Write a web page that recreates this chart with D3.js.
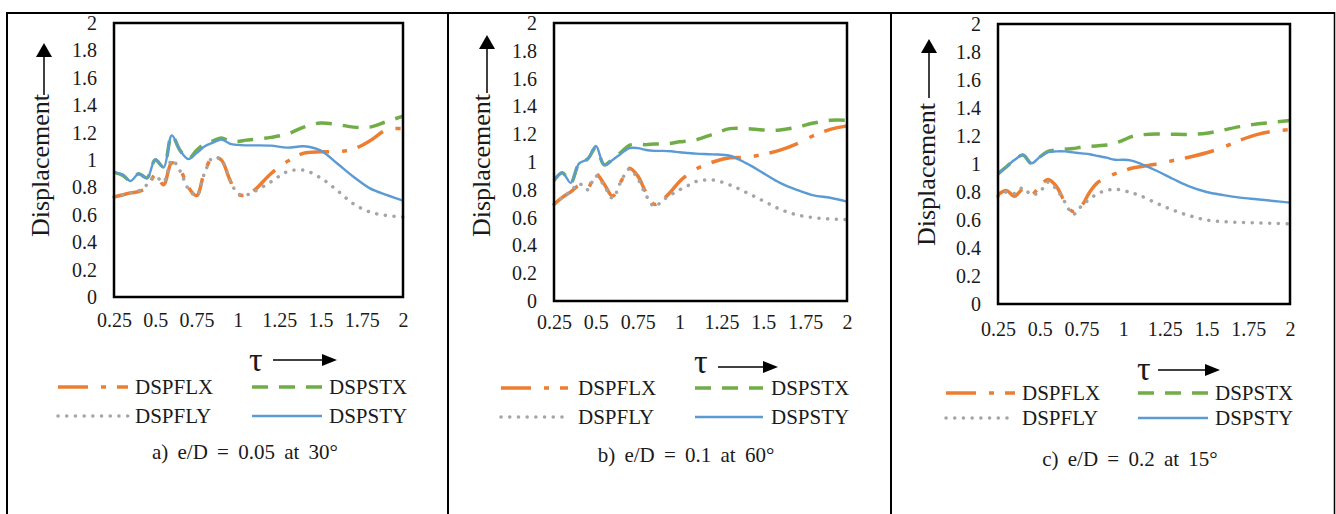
<!DOCTYPE html>
<html>
<head>
<meta charset="utf-8">
<script src="https://cdn.jsdelivr.net/npm/d3@7"></script>
<style>
  body { margin: 0; background: #fff; }
  svg text { font-family: 'Liberation Serif', 'DejaVu Serif', serif; fill: #1a1a1a; }
</style>
</head>
<body>
<div id="chart"></div>
<script>
// tau values shared by all series
var tau = [0.25, 0.3, 0.35, 0.4, 0.45, 0.5, 0.55, 0.6, 0.65, 0.7, 0.75, 0.8, 0.85, 0.9, 0.95,
           1, 1.05, 1.1, 1.2, 1.3, 1.4, 1.5, 1.6, 1.7, 1.8, 1.9, 2];

// a) e/D = 0.05 at 30
var flxA = [0.73, 0.745, 0.76, 0.77, 0.80, 0.89, 0.82, 0.98, 0.93, 0.80, 0.74, 0.92, 1.02, 1.0, 0.86,
            0.75, 0.745, 0.78, 0.90, 0.99, 1.05, 1.06, 1.06, 1.08, 1.14, 1.22, 1.23];
var stxA = [0.91, 0.89, 0.85, 0.90, 0.87, 1.0, 0.95, 1.18, 1.07, 1.01, 1.07, 1.12, 1.14, 1.16, 1.14,
            1.135, 1.145, 1.15, 1.165, 1.19, 1.24, 1.27, 1.26, 1.24, 1.24, 1.28, 1.32];
var flyA = [0.73, 0.745, 0.76, 0.775, 0.82, 0.88, 0.84, 1.0, 0.92, 0.79, 0.74, 0.91, 1.02, 1.0, 0.86,
            0.755, 0.745, 0.77, 0.84, 0.915, 0.925, 0.87, 0.78, 0.68, 0.62, 0.595, 0.585];
var styA = [0.91, 0.895, 0.847, 0.90, 0.866, 1.005, 0.946, 1.18, 1.07, 1.007, 1.05, 1.10, 1.127, 1.15, 1.12,
            1.11, 1.107, 1.107, 1.105, 1.09, 1.10, 1.07, 0.976, 0.878, 0.793, 0.745, 0.703];

// b) e/D = 0.1 at 60
var flxB = [0.695, 0.745, 0.785, 0.83, 0.81, 0.915, 0.84, 0.755, 0.86, 0.955, 0.90, 0.78, 0.695, 0.73, 0.79,
            0.86, 0.91, 0.95, 1.0, 1.03, 1.035, 1.055, 1.085, 1.13, 1.19, 1.235, 1.26];
var stxB = [0.866, 0.923, 0.85, 0.99, 1.02, 1.1, 0.98, 1.02, 1.07, 1.12, 1.127, 1.125, 1.13, 1.13, 1.135,
            1.145, 1.15, 1.16, 1.2, 1.24, 1.24, 1.23, 1.23, 1.25, 1.28, 1.30, 1.30];
var flyB = [0.695, 0.745, 0.79, 0.845, 0.80, 0.90, 0.83, 0.74, 0.86, 0.95, 0.88, 0.76, 0.68, 0.725, 0.765,
            0.80, 0.83, 0.86, 0.87, 0.835, 0.78, 0.72, 0.66, 0.62, 0.60, 0.59, 0.585];
var styB = [0.866, 0.923, 0.85, 0.99, 1.02, 1.115, 0.978, 1.015, 1.06, 1.10, 1.10, 1.086, 1.08, 1.08, 1.077,
            1.07, 1.065, 1.06, 1.055, 1.045, 0.99, 0.92, 0.85, 0.80, 0.76, 0.743, 0.715];

// c) e/D = 0.2 at 15
var flxC = [0.78, 0.81, 0.77, 0.82, 0.78, 0.84, 0.89, 0.84, 0.73, 0.66, 0.70, 0.80, 0.87, 0.90, 0.93,
            0.95, 0.97, 0.98, 1.0, 1.025, 1.05, 1.08, 1.12, 1.17, 1.21, 1.235, 1.245];
var stxC = [0.93, 0.98, 1.03, 1.064, 1.005, 1.05, 1.09, 1.10, 1.105, 1.11, 1.12, 1.125, 1.13, 1.135, 1.148,
            1.17, 1.195, 1.207, 1.214, 1.212, 1.212, 1.22, 1.243, 1.267, 1.286, 1.298, 1.31];
var flyC = [0.77, 0.80, 0.79, 0.83, 0.78, 0.80, 0.87, 0.82, 0.73, 0.64, 0.70, 0.75, 0.79, 0.81, 0.82,
            0.81, 0.795, 0.775, 0.72, 0.67, 0.63, 0.60, 0.588, 0.583, 0.58, 0.576, 0.572];
var styC = [0.93, 0.98, 1.03, 1.064, 1.005, 1.05, 1.085, 1.09, 1.09, 1.083, 1.076, 1.07, 1.057, 1.045, 1.03,
            1.03, 1.024, 1.005, 0.952, 0.893, 0.838, 0.80, 0.778, 0.76, 0.748, 0.736, 0.724];

var seriesNames = ["DSPFLX", "DSPSTX", "DSPFLY", "DSPSTY"];
var captions = ["a) e/D = 0.05 at 30\u00b0", "b) e/D = 0.1 at 60\u00b0", "c) e/D = 0.2 at 15\u00b0"];
var xTicks = [0.25, 0.5, 0.75, 1, 1.25, 1.5, 1.75, 2];
var yTicks = [0, 0.2, 0.4, 0.6, 0.8, 1, 1.2, 1.4, 1.6, 1.8, 2];

var serif = "'Liberation Serif', 'DejaVu Serif', serif";

var styles = [
  {color: "#ED7D31", width: 3.5, dash: "30,13,5,11", cap: "butt"},
  {color: "#70AD47", width: 3.5, dash: "16,11", cap: "butt"},
  {color: "#A5A5A5", width: 3.5, dash: "0.1,8.6", cap: "round"},
  {color: "#5B9BD5", width: 2.4, dash: null, cap: "butt"}
];

// layout of each panel
var panels = [
  {vals: [flxA, stxA, flyA, styA], l: 114, r: 403, t: 23, b: 297, xPad: 16,
   yl: {tx: 49, ty: 237, lx: 44, top: 95, tip: 43},
   tau: {x: 249, y: 371, ay: 360, a1: 273, a2: 337},
   leg: {c1: [58, 128, 135], c2: [252, 322, 329], r: [387, 416]},
   cap: {x: 245, y: 459}},
  {vals: [flxB, stxB, flyB, styB], l: 554, r: 847, t: 23, b: 301, xPad: 14,
   yl: {tx: 490, ty: 237, lx: 487, top: 93, tip: 35},
   tau: {x: 694, y: 373, ay: 367, a1: 718, a2: 778},
   leg: {c1: [501, 568, 578], c2: [695, 763, 771], r: [388, 417]},
   cap: {x: 686, y: 462}},
  {vals: [flxC, stxC, flyC, styC], l: 998, r: 1290, t: 24, b: 304, xPad: 18,
   yl: {tx: 935, ty: 246, lx: 929, top: 98, tip: 39},
   tau: {x: 1137, y: 380, ay: 370, a1: 1158, a2: 1220},
   leg: {c1: [946, 1015, 1022], c2: [1138, 1208, 1215], r: [393, 418]},
   cap: {x: 1130, y: 466}}
];

var svg = d3.select("#chart").append("svg")
    .attr("width", 1336)
    .attr("height", 514)
    .attr("font-family", serif)
    .style("font-family", serif);

// table rules
var rules = svg.append("g").attr("stroke", "#000");
rules.append("line").attr("x1", 6).attr("x2", 1335).attr("y1", 13).attr("y2", 13).attr("stroke-width", 2);
[7, 448, 891].forEach(function(xv) {
  rules.append("line").attr("x1", xv).attr("x2", xv).attr("y1", 12).attr("y2", 514).attr("stroke-width", 2);
});
rules.append("line").attr("x1", 1334.5).attr("x2", 1334.5).attr("y1", 12).attr("y2", 514).attr("stroke-width", 1.5);

var fmt = d3.format("~g");

panels.forEach(function(p, pi) {
  var g = svg.append("g");
  var x = d3.scaleLinear().domain([0.25, 2]).range([p.l, p.r]);
  var y = d3.scaleLinear().domain([0, 2]).range([p.b, p.t]);

  var yAxis = g.append("g")
      .attr("transform", `translate(${p.l},0)`)
      .call(d3.axisLeft(y).tickValues(yTicks).tickSize(0).tickPadding(17).tickFormat(fmt));
  var xAxis = g.append("g")
      .attr("transform", `translate(0,${p.b})`)
      .call(d3.axisBottom(x).tickValues(xTicks).tickSize(0).tickPadding(p.xPad).tickFormat(fmt));
  [yAxis, xAxis].forEach(function(a) {
    a.select(".domain").remove();
    a.attr("font-family", serif).attr("font-size", 20);
    a.selectAll("text").attr("font-family", serif).attr("font-size", 20).attr("fill", "#1a1a1a");
  });

  var line = d3.line()
      .x((d, i) => x(tau[i]))
      .y(d => y(d))
      .curve(d3.curveCatmullRom.alpha(0.5));

  p.vals.forEach(function(v, k) {
    var s = styles[k];
    g.append("path")
        .datum(v)
        .attr("d", line)
        .attr("fill", "none")
        .attr("stroke", s.color)
        .attr("stroke-width", s.width)
        .attr("stroke-linecap", s.cap)
        .attr("stroke-dasharray", s.dash);
  });

  // plot frame
  g.append("rect")
      .attr("x", p.l).attr("y", p.t)
      .attr("width", p.r - p.l).attr("height", p.b - p.t)
      .attr("fill", "none").attr("stroke", "#000").attr("stroke-width", 2.5);

  // y title with arrow
  g.append("text")
      .attr("transform", `translate(${p.yl.tx},${p.yl.ty}) rotate(-90)`)
      .attr("font-family", serif)
      .attr("font-size", 26)
      .text("Displacement");
  g.append("line")
      .attr("x1", p.yl.lx).attr("x2", p.yl.lx)
      .attr("y1", p.yl.top).attr("y2", p.yl.tip + 12)
      .attr("stroke", "#000").attr("stroke-width", 1.5);
  g.append("path")
      .attr("d", `M${p.yl.lx},${p.yl.tip} L${p.yl.lx - 8},${p.yl.tip + 14} L${p.yl.lx + 8},${p.yl.tip + 14} Z`)
      .attr("fill", "#000");

  // x title with arrow
  g.append("text")
      .attr("x", p.tau.x).attr("y", p.tau.y)
      .attr("font-family", serif)
      .attr("font-size", 34)
      .text("\u03c4");
  g.append("line")
      .attr("x1", p.tau.a1).attr("x2", p.tau.a2 - 12)
      .attr("y1", p.tau.ay).attr("y2", p.tau.ay)
      .attr("stroke", "#000").attr("stroke-width", 1.5);
  g.append("path")
      .attr("d", `M${p.tau.a2},${p.tau.ay} L${p.tau.a2 - 15},${p.tau.ay - 6} L${p.tau.a2 - 15},${p.tau.ay + 6} Z`)
      .attr("fill", "#000");

  // legend: two columns, two rows
  seriesNames.forEach(function(name, k) {
    var col = k % 2 === 0 ? p.leg.c1 : p.leg.c2;
    var ry = p.leg.r[Math.floor(k / 2)];
    var s = styles[k];
    g.append("line")
        .attr("x1", col[0]).attr("x2", col[1])
        .attr("y1", ry).attr("y2", ry)
        .attr("stroke", s.color)
        .attr("stroke-width", s.width)
        .attr("stroke-linecap", s.cap)
        .attr("stroke-dasharray", s.dash);
    g.append("text")
        .attr("x", col[2]).attr("y", ry + 7)
        .attr("font-family", serif)
        .attr("font-size", 21)
        .text(name);
  });

  g.append("text")
      .attr("x", p.cap.x).attr("y", p.cap.y)
      .attr("text-anchor", "middle")
      .attr("font-family", serif)
      .attr("font-size", 21)
      .attr("word-spacing", 4)
      .text(captions[pi]);
});
</script>
</body>
</html>
